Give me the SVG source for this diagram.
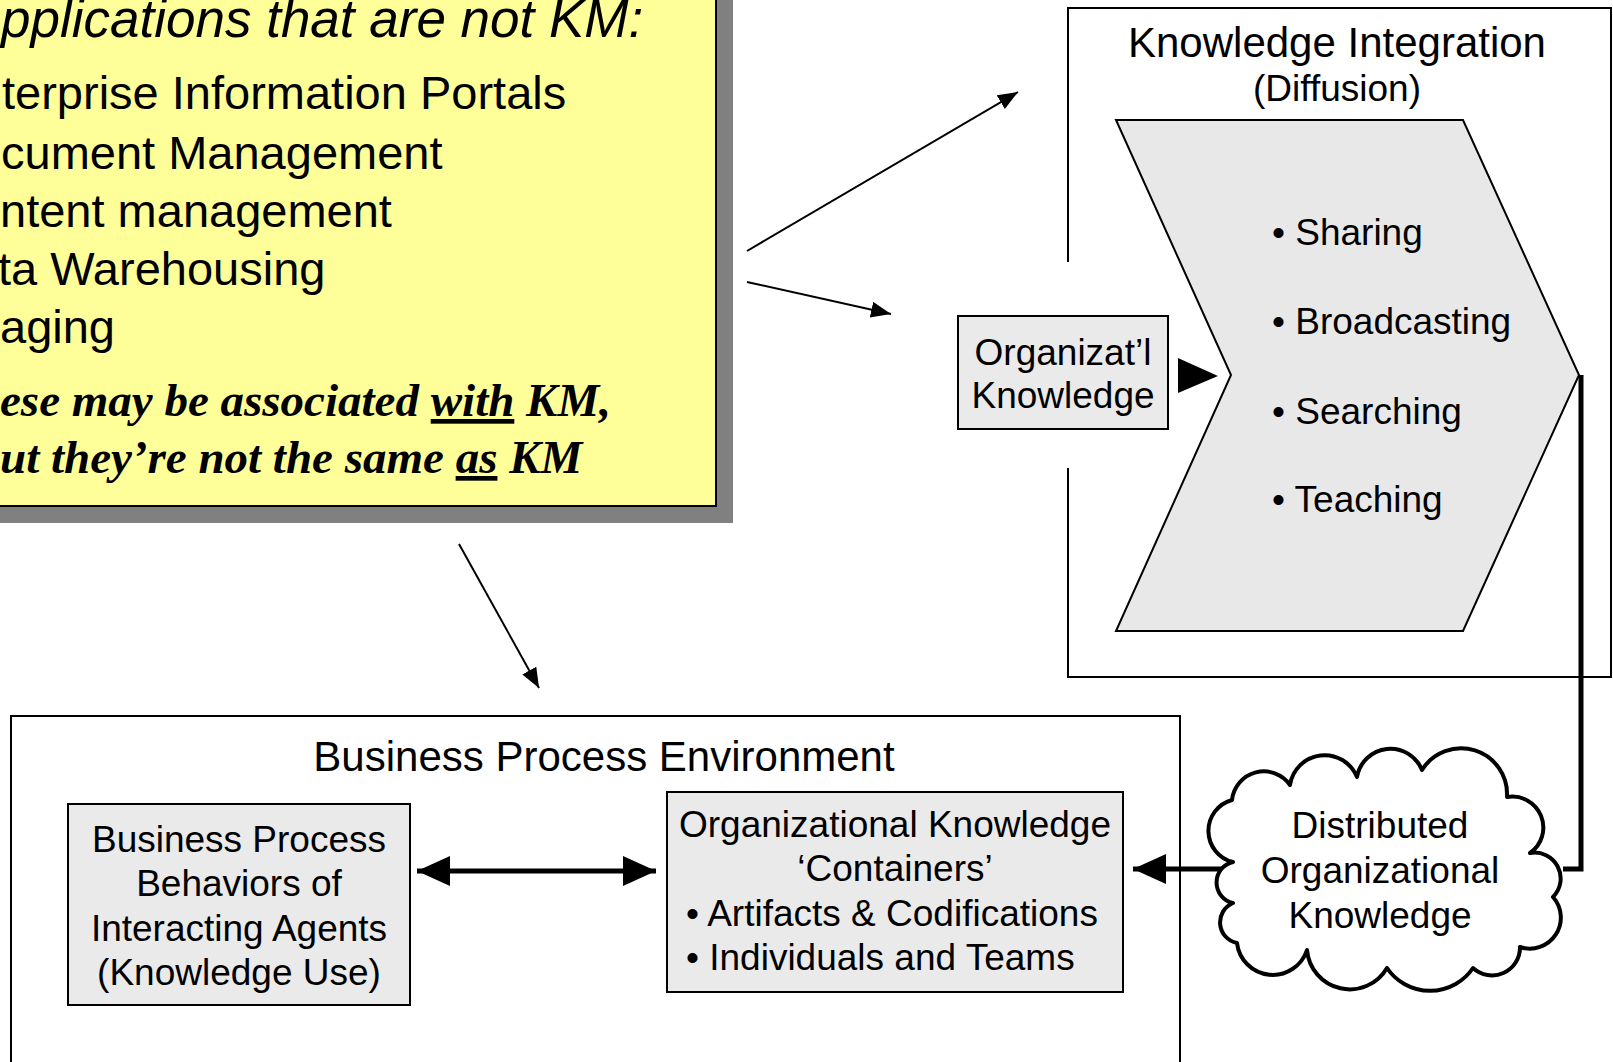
<svg xmlns="http://www.w3.org/2000/svg" width="1613" height="1062" viewBox="0 0 1613 1062">
<style>
.sans{font-family:"Liberation Sans",Arial,sans-serif;fill:#000}
.serif{font-family:"Liberation Serif","Times New Roman",serif;fill:#000}
.box{fill:#EAEAEA;stroke:#000;stroke-width:2}
.frame{fill:none;stroke:#000;stroke-width:2}
.thin{fill:none;stroke:#000;stroke-width:2}
.thick{fill:none;stroke:#000;stroke-width:5}
</style>
<defs>
<marker id="ah" markerUnits="userSpaceOnUse" markerWidth="22" markerHeight="18" refX="20" refY="8" orient="auto">
<path d="M0,0 L20,8 L0,16 z" fill="#000"/>
</marker>
<marker id="ahBig" markerUnits="userSpaceOnUse" markerWidth="34" markerHeight="32" refX="33" refY="15" orient="auto">
<path d="M0,0 L33,15 L0,30 z" fill="#000"/>
</marker>
<marker id="ahBigStart" markerUnits="userSpaceOnUse" markerWidth="34" markerHeight="32" refX="0" refY="15" orient="auto">
<path d="M33,0 L0,15 L33,30 z" fill="#000"/>
</marker>
</defs>
<rect width="1613" height="1062" fill="#fff"/>

<g id="not-km-note">
<rect x="-20" y="-20" width="753" height="543" fill="#808080"/>
<rect x="-40" y="-40" width="756" height="546" fill="#FFFF99" stroke="#000" stroke-width="2"/>
<text class="sans" x="1" y="37" font-size="53" font-style="italic">pplications that are not KM:</text>
<text class="sans" x="2" y="109" font-size="47">terprise Information Portals</text>
<text class="sans" x="1" y="169" font-size="47">cument Management</text>
<text class="sans" x="0" y="227" font-size="47">ntent management</text>
<text class="sans" x="-2" y="285" font-size="47">ta Warehousing</text>
<text class="sans" x="0" y="343" font-size="47">aging</text>
<text class="serif" x="0" y="416" font-size="47" font-style="italic" font-weight="bold">ese may be associated <tspan style="text-decoration:underline">with</tspan> KM,</text>
<text class="serif" x="0" y="473" font-size="47" font-style="italic" font-weight="bold">ut they’re not the same <tspan style="text-decoration:underline">as</tspan> KM</text>
</g>

<g id="knowledge-integration">
<path class="frame" d="M1068,262 V8 H1611 V677 H1068 V468"/>
<text class="sans" x="1337" y="57" font-size="42" text-anchor="middle">Knowledge Integration</text>
<text class="sans" x="1337" y="101" font-size="37" text-anchor="middle">(Diffusion)</text>
</g>

<g id="diffusion-chevron">
<path d="M1116,120 H1463 L1579,375 L1463,631 H1116 L1231,375 Z" fill="#E8E8E8" stroke="#000" stroke-width="2"/>
<text class="sans" x="1272" y="245" font-size="37">• Sharing</text>
<text class="sans" x="1272" y="334" font-size="37">• Broadcasting</text>
<text class="sans" x="1272" y="424" font-size="37">• Searching</text>
<text class="sans" x="1272" y="512" font-size="37">• Teaching</text>
</g>

<g id="organizational-knowledge">
<rect class="box" x="958" y="316" width="210" height="113"/>
<text class="sans" x="1063" y="365" font-size="37" text-anchor="middle">Organizat’l</text>
<text class="sans" x="1063" y="408" font-size="37" text-anchor="middle">Knowledge</text>
</g>

<g id="business-process-environment">
<path class="frame" d="M11,1070 V716 H1180 V1070"/>
<text class="sans" x="604" y="771" font-size="42" text-anchor="middle">Business Process Environment</text>
</g>

<g id="business-process-behaviors">
<rect class="box" x="68" y="804" width="342" height="201"/>
<text class="sans" x="239" y="852" font-size="37" text-anchor="middle">Business Process</text>
<text class="sans" x="239" y="896" font-size="37" text-anchor="middle">Behaviors of</text>
<text class="sans" x="239" y="941" font-size="37" text-anchor="middle">Interacting Agents</text>
<text class="sans" x="239" y="985" font-size="37" text-anchor="middle">(Knowledge Use)</text>
</g>

<g id="knowledge-containers">
<rect class="box" x="667" y="792" width="456" height="200"/>
<text class="sans" x="895" y="837" font-size="37" text-anchor="middle">Organizational Knowledge</text>
<text class="sans" x="895" y="881" font-size="37" text-anchor="middle">‘Containers’</text>
<text class="sans" x="686" y="926" font-size="37">• Artifacts &amp; Codifications</text>
<text class="sans" x="686" y="970" font-size="37">• Individuals and Teams</text>
</g>

<g id="distributed-knowledge">
<path d="M1232,800 A32,32 0 0 1 1290,785 A35,35 0 0 1 1357,777 A34,34 0 0 1 1422,770 A46,46 0 0 1 1507,797 A31,31 0 0 1 1530,853 A26,26 0 0 1 1553,897 A31,31 0 0 1 1520,947 A28,28 0 0 1 1473,968 A52,52 0 0 1 1387,968 A43,43 0 0 1 1307,950 A36,36 0 0 1 1237,943 A21,21 0 0 1 1233,903 A21,21 0 0 1 1233,862 A32,32 0 0 1 1232,800 Z" fill="#fff" stroke="#000" stroke-width="4" stroke-linejoin="round"/>
<text class="sans" x="1380" y="838" font-size="37" text-anchor="middle">Distributed</text>
<text class="sans" x="1380" y="883" font-size="37" text-anchor="middle">Organizational</text>
<text class="sans" x="1380" y="928" font-size="37" text-anchor="middle">Knowledge</text>
</g>

<g id="connectors">
<line class="thin" x1="747" y1="251" x2="1018" y2="92" marker-end="url(#ah)"/>
<line class="thin" x1="747" y1="282" x2="891" y2="314" marker-end="url(#ah)"/>
<line class="thin" x1="459" y1="544" x2="539" y2="688" marker-end="url(#ah)"/>
<polygon points="1178,358 1218,376 1178,393" fill="#000"/>
<line class="thick" x1="417" y1="871" x2="656" y2="871" marker-start="url(#ahBigStart)" marker-end="url(#ahBig)"/>
<path class="thick" d="M1581,375 V869 H1563" stroke-linejoin="miter"/>
<line class="thick" x1="1222" y1="869" x2="1133" y2="869" marker-end="url(#ahBig)"/>
</g>
</svg>
